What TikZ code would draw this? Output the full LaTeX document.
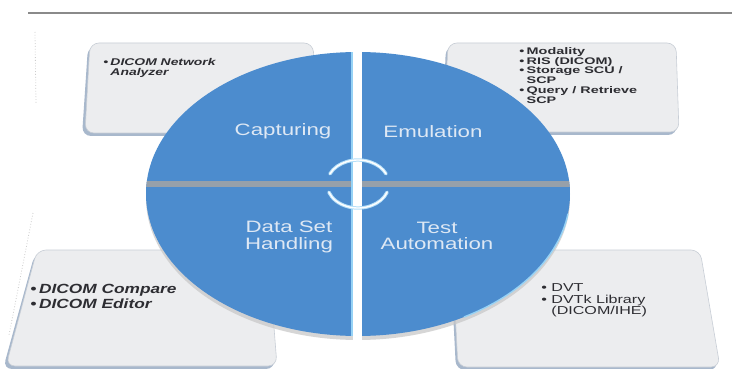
\documentclass[tikz,border=0pt]{standalone}
\usepackage{fontspec}
\setmainfont{Liberation Sans}
\definecolor{discblue}{RGB}{76,140,206}
\definecolor{disctext}{RGB}{222,232,244}
\definecolor{bandgray}{RGB}{150,160,170}
\definecolor{lightrim}{RGB}{150,210,245}
\definecolor{boxgray}{RGB}{236,237,239}
\definecolor{boxedge}{RGB}{168,184,204}
\definecolor{boxline}{RGB}{200,206,214}
\definecolor{boxtext}{RGB}{45,45,50}
\definecolor{rulegray}{RGB}{138,138,138}
\begin{document}
\begin{tikzpicture}[x=1pt,y=-1pt,
  boxshadow/.style={fill=boxedge, rounded corners=9pt},
  boxfill/.style={fill=boxgray, draw=boxline, line width=0.6pt, rounded corners=9pt},
  disclabel/.style={font=\fontsize{16.5}{16.5}\selectfont, text=disctext, align=center, inner sep=0pt, xscale=1.35},
  boxlabel/.style={text=boxtext, align=left, inner sep=0pt, anchor=north west},
  cyclearc/.style={line width=3.4pt, draw=lightrim!70!white, line cap=round},
  cycleinner/.style={line width=1.4pt, draw=white, line cap=round}]
\useasboundingbox (0,0) rectangle (732,369);
\fill[white] (0,0) rectangle (732,369);
% top rule
\coordinate (ruleL) at (28,13);
\coordinate (ruleR) at (732,13);
\draw[rulegray, line width=2pt] (ruleL) -- (ruleR);
% faint dotted artifacts
\draw[gray!40, dotted, line width=0.8pt] (35,32) -- (36,104);
\draw[gray!40, dotted, line width=0.8pt] (33,213) -- (9,335);
% boxes (behind the disc)
\fill[boxshadow] (88,46) -- (311,46) -- (316,136) -- (82,136) -- cycle;
\draw[boxfill] (90,43) -- (313,43) -- (318,133) -- (85,133) -- cycle;
\fill[boxshadow] (446,46) -- (674,46) -- (677,135) -- (442,135) -- cycle;
\draw[boxfill] (448,43) -- (676,43) -- (679,132) -- (444,132) -- cycle;
\fill[boxshadow] (35,253) -- (266,253) -- (275,369) -- (3,369) -- cycle;
\draw[boxfill] (37,250) -- (268,250) -- (277,366) -- (6,366) -- cycle;
\fill[boxshadow] (450,253) -- (698,253) -- (718,370) -- (456,370) -- cycle;
\draw[boxfill] (452,250) -- (700,250) -- (720,367) -- (458,367) -- cycle;
% disc
\fill[gray!45, opacity=0.7] (358,198) ellipse [x radius=212, y radius=142];
\fill[discblue] (358,194) ellipse [x radius=212, y radius=142];
\begin{scope}
  \clip (358,194) ellipse [x radius=212, y radius=142];
  \fill[bandgray] (140,181) rectangle (580,187);
  \draw[lightrim, line width=1.5pt] (352,40) -- (352,345);
\end{scope}
\fill[white] (353,40) rectangle (362,345);
\draw[lightrim, line width=1.4pt] (358,194) ++(8:212 and 142) arc[start angle=8, end angle=60, x radius=212, y radius=142];
% centre cycle arcs
\draw[cyclearc] (358,184) ++(205:31 and 24) arc[start angle=205, end angle=335, x radius=31, y radius=24];
\draw[cycleinner] (358,184) ++(205:31 and 24) arc[start angle=205, end angle=335, x radius=31, y radius=24];
\draw[cyclearc] (358,184) ++(20:31 and 24) arc[start angle=20, end angle=160, x radius=31, y radius=24];
\draw[cycleinner] (358,184) ++(20:31 and 24) arc[start angle=20, end angle=160, x radius=31, y radius=24];
% disc labels
\node[disclabel] (capt) at (283,131) {Capturing};
\node[disclabel] (emul) at (433,132) {Emulation};
\node[disclabel] (dsh) at (289,237) {Data Set\\Handling};
\node[disclabel] (tauto) at (437,236) {Test\\Automation};
% box labels
\node[boxlabel, font=\fontsize{9.8}{10}\selectfont\bfseries\itshape, xscale=1.42] (tltext) at (103,58)
  {\begin{tabular}{@{}l@{\,}l@{}}• & DICOM Network\\ & Analyzer\end{tabular}};
\node[boxlabel, font=\fontsize{9.6}{9.7}\selectfont\bfseries, xscale=1.5] (trtext) at (519,47)
  {\begin{tabular}{@{}l@{\,}l@{}}• & Modality\\ • & RIS (DICOM)\\ • & Storage SCU /\\ & SCP\\ • & Query / Retrieve\\ & SCP\end{tabular}};
\node[boxlabel, font=\fontsize{13.3}{15}\selectfont\bfseries\itshape, xscale=1.3] (bltext) at (30,283)
  {\begin{tabular}{@{}l@{\,}l@{}}• & DICOM Compare\\ • & DICOM Editor\end{tabular}};
\node[boxlabel, font=\fontsize{11.5}{11.5}\selectfont, xscale=1.4] (brtext) at (541,283)
  {\begin{tabular}{@{}l@{\ }l@{}}• & DVT\\ • & DVTk Library\\ & (DICOM/IHE)\end{tabular}};
\end{tikzpicture}
\end{document}
